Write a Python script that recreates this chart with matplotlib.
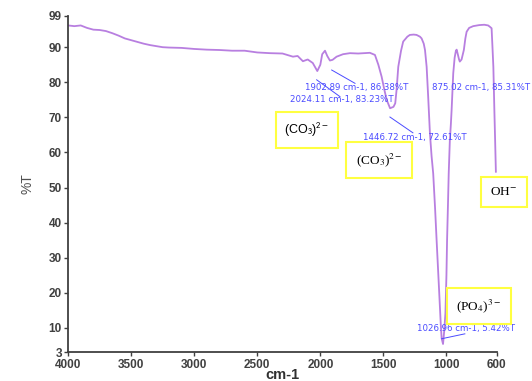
import matplotlib

matplotlib.use("Agg")
import matplotlib.pyplot as plt

# FTIR spectrum
WAVENUMBER = [
    4000, 3950, 3900, 3850, 3800, 3750, 3700, 3650, 3600, 3550, 3500, 3450,
    3400, 3350, 3300, 3250, 3200, 3100, 3000, 2900, 2800, 2700, 2600, 2500,
    2400, 2300, 2217, 2180, 2138, 2100, 2060, 2024, 2000, 1985, 1963, 1945,
    1924, 1903, 1871, 1820, 1765, 1700, 1607, 1567, 1540, 1514, 1490, 1474,
    1447, 1420, 1406, 1395, 1382, 1360, 1343, 1310, 1290, 1260, 1237, 1210,
    1197, 1180, 1170, 1157, 1145, 1131, 1118, 1105, 1090, 1078, 1060, 1045,
    1038, 1027, 1018, 1008, 1000, 995, 988, 982, 973, 965, 959, 946, 935,
    925, 919, 910, 900, 894, 880, 862, 850, 840, 820, 788, 740, 700, 669,
    655, 642, 635, 628, 620, 614, 608,
]
TRANSMITTANCE = [
    96.2, 96.0, 96.2, 95.5, 95.0, 94.9, 94.6, 94.0, 93.3, 92.5, 92.0, 91.5,
    91.0, 90.6, 90.3, 90.0, 89.9, 89.8, 89.5, 89.3, 89.2, 89.0, 89.0, 88.5,
    88.3, 88.2, 87.3, 87.5, 86.0, 86.5, 85.5, 83.2, 85.0, 88.0, 89.0, 87.5,
    86.2, 86.4, 87.3, 88.0, 88.3, 88.2, 88.4, 87.8, 85.0, 81.6, 77.5, 75.0,
    72.6, 73.0, 74.0, 78.0, 84.4, 89.0, 91.6, 93.0, 93.5, 93.6, 93.5, 93.0,
    92.5, 91.0, 89.2, 84.4, 76.0, 65.5, 59.0, 54.0, 44.0, 35.0, 22.0, 11.0,
    7.0, 5.4, 9.0, 14.2, 25.0, 35.0, 45.0, 54.0, 63.5, 68.0, 72.1, 82.6, 87.0,
    89.0, 89.3, 88.0, 86.5, 85.9, 86.5, 89.2, 92.5, 94.4, 95.5, 96.0, 96.3,
    96.4, 96.2, 95.8, 95.4, 90.0, 84.4, 72.0, 63.5, 54.5,
]

X_TICKS = [4000, 3500, 3000, 2500, 2000, 1500, 1000, 600]
Y_TICKS = [3, 10, 20, 30, 40, 50, 60, 70, 80, 90, 99]

# peak picks: label, text position, leader line (from, to)
PEAK_LABELS = [
    "1902.89 cm-1, 86.38%T",
    "2024.11 cm-1, 83.23%T",
    "1446.72 cm-1, 72.61%T",
    "875.02 cm-1, 85.31%T",
    "1026.96 cm-1, 5.42%T",
]
PEAK_TEXT_XY = [(1713, 78.4), (1833, 75.2), (1250, 64.4), (1115, 78.4), (846, 9.7)]
PEAK_TEXT_HA = ["center", "center", "center", "left", "center"]
PEAK_LEADERS = [
    ((1910, 83.5), (1725, 79.7)),
    ((2029, 80.7), (1844, 75.9)),
    ((1448, 70.1), (1266, 65.6)),
    None,
    ((1038, 6.9), (854, 8.3)),
]

# band assignment boxes
GROUP_LABELS = [r"(CO$_3$)$^{2-}$", r"(CO$_3$)$^{2-}$", r"OH$^{-}$", r"(PO$_4$)$^{3-}$"]
GROUP_XY = [(2106, 66.4), (1535, 57.9), (545, 48.7), (743, 16.3)]
GROUP_FONTS = ["Liberation Sans", "Liberation Serif", "Liberation Serif", "Liberation Serif"]

LINE_COLOR = "#b87fe0"
PICK_COLOR = "#4b4bff"
AXIS_COLOR = "#404040"

fig = plt.figure(figsize=(5.32, 3.81), dpi=100)
ax = fig.add_axes([0.128, 0.075, 0.806, 0.884])

ax.plot(WAVENUMBER, TRANSMITTANCE, color=LINE_COLOR, linewidth=1.3)

for label, (tx, ty), ha, leader in zip(PEAK_LABELS, PEAK_TEXT_XY, PEAK_TEXT_HA, PEAK_LEADERS):
    ax.text(tx, ty, label, color=PICK_COLOR, fontsize=6.2, ha=ha, va="center",
            clip_on=False)
    if leader is not None:
        (x0, y0), (x1, y1) = leader
        ax.plot([x0, x1], [y0, y1], color=PICK_COLOR, linewidth=0.7)

for label, (gx, gy), family in zip(GROUP_LABELS, GROUP_XY, GROUP_FONTS):
    math_family = "stixsans" if family == "Liberation Sans" else "stix"
    size = 9 if family == "Liberation Sans" else 9.5
    ax.text(gx, gy, label, family=family, math_fontfamily=math_family,
            fontsize=size, ha="center", va="center", color="black", clip_on=False,
            bbox=dict(boxstyle="square,pad=0.7", fc="white", ec="#ffff40", lw=1.5))

ax.set_xlim(4000, 600)
ax.set_ylim(3, 99)
ax.set_xticks(X_TICKS)
ax.set_yticks(Y_TICKS)
ax.spines[["top", "right"]].set_visible(False)
for side in ["left", "bottom"]:
    ax.spines[side].set_color(AXIS_COLOR)
    ax.spines[side].set_linewidth(1.3)
ax.tick_params(direction="out", length=3, width=1, color=AXIS_COLOR, pad=1.5,
               labelcolor=AXIS_COLOR)
for lbl in ax.get_xticklabels() + ax.get_yticklabels():
    lbl.set_family("Liberation Sans")
    lbl.set_fontweight("bold")
    lbl.set_fontsize(8.5)

ax.set_xlabel("cm-1", family="Liberation Sans", fontweight="bold", fontsize=10.5,
              color="#303030", labelpad=-2)
ax.set_ylabel("%T", family="Liberation Sans", fontsize=10, color="#505050",
              labelpad=10)

fig.savefig("out.png", dpi=100)
